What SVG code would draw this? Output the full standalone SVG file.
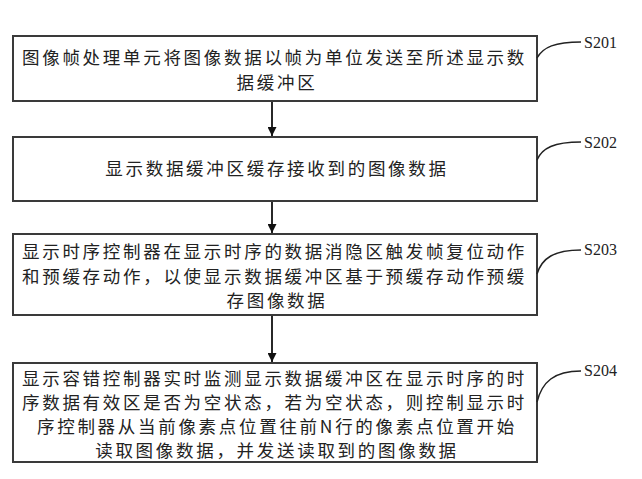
<svg xmlns="http://www.w3.org/2000/svg" width="642" height="479" viewBox="0 0 642 479">
<defs>
<marker id="ah" viewBox="0 0 10 10" refX="10" refY="5" markerWidth="9" markerHeight="9" markerUnits="userSpaceOnUse" orient="auto">
<path d="M0,0 L10,5 L0,10 z" fill="#111"/>
</marker>
<style>
.box{fill:#fff;stroke:#3a3a3a;stroke-width:2}
.t{font-family:"Noto Sans CJK SC","Noto Sans",sans-serif;font-size:17.5px;fill:#222;letter-spacing:2.7px}
.c{text-anchor:middle}
.lbl{font-family:"Liberation Serif",serif;font-size:16px;fill:#222}
.lead{fill:none;stroke:#222;stroke-width:1.5}
.conn{stroke:#111;stroke-width:1.8;fill:none}
</style>
</defs>
<rect width="642" height="479" fill="#fff"/>
<g id="connectors">
<line class="conn" x1="272" y1="101" x2="272" y2="136" marker-end="url(#ah)"/>
<line class="conn" x1="272" y1="201" x2="272" y2="233" marker-end="url(#ah)"/>
<line class="conn" x1="272" y1="315" x2="272" y2="362" marker-end="url(#ah)"/>
</g>
<g id="S201">
<rect class="box" x="13" y="36" width="524" height="65"/>
<text class="t" x="22" y="64">图像帧处理单元将图像数据以帧为单位发送至所述显示数</text>
<text class="t c" x="277" y="89">据缓冲区</text>
<path class="lead" d="M537,58 C543,47 555,42 581,42"/>
<text class="lbl" x="584" y="48">S201</text>
</g>
<g id="S202">
<rect class="box" x="13" y="137" width="524" height="64"/>
<text class="t c" x="277" y="175">显示数据缓冲区缓存接收到的图像数据</text>
<path class="lead" d="M537,160 C542,148 554,142 581,142"/>
<text class="lbl" x="584" y="148">S202</text>
</g>
<g id="S203">
<rect class="box" x="13" y="234" width="524" height="81"/>
<text class="t" x="22" y="258">显示时序控制器在显示时序的数据消隐区触发帧复位动作</text>
<text class="t" x="22" y="283">和预缓存动作，以使显示数据缓冲区基于预缓存动作预缓</text>
<text class="t c" x="277" y="307">存图像数据</text>
<path class="lead" d="M537,274 C542,258 554,250 581,250"/>
<text class="lbl" x="584" y="255">S203</text>
</g>
<g id="S204">
<rect class="box" x="13" y="363" width="524" height="99"/>
<text class="t" x="22" y="385">显示容错控制器实时监测显示数据缓冲区在显示时序的时</text>
<text class="t" x="22" y="409">序数据有效区是否为空状态，若为空状态，则控制显示时</text>
<text class="t c" x="277" y="433">序控制器从当前像素点位置往前N行的像素点位置开始</text>
<text class="t c" x="277" y="457">读取图像数据，并发送读取到的图像数据</text>
<path class="lead" d="M537,402 C542,382 554,371 581,371"/>
<text class="lbl" x="584" y="376">S204</text>
</g>
</svg>
